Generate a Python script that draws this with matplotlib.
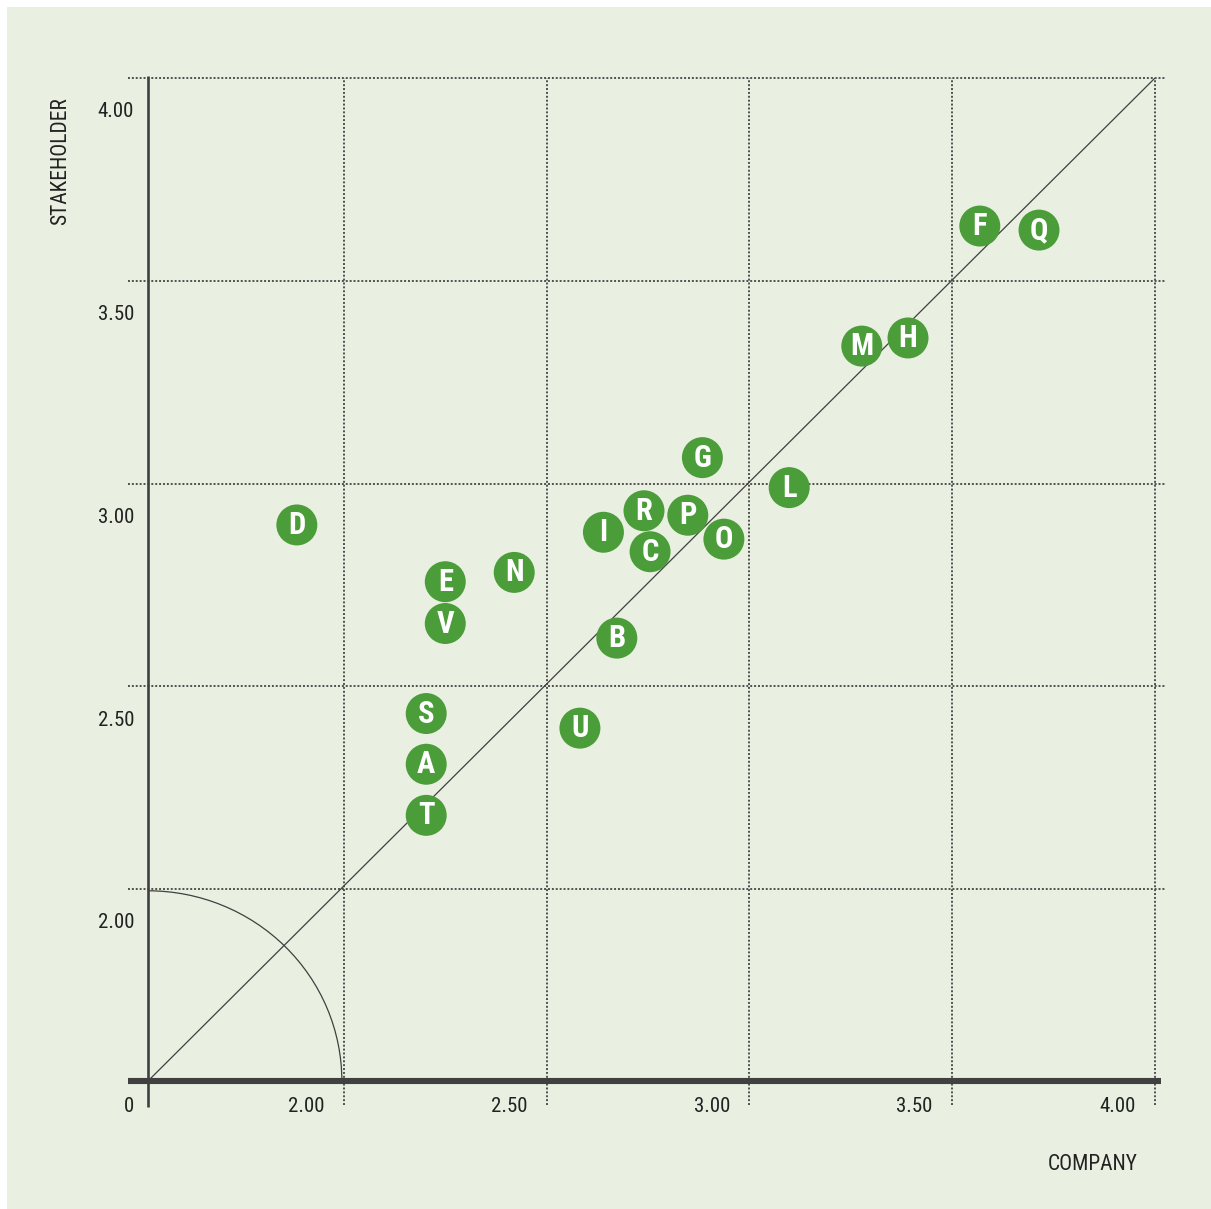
import numpy as np
import matplotlib
matplotlib.use('Agg')
import matplotlib.pyplot as plt
from matplotlib import font_manager
from matplotlib.patches import Arc, Rectangle
from matplotlib.transforms import offset_copy

# data
labels = ['D', 'E', 'V', 'N', 'S', 'A', 'T', 'U', 'B', 'I', 'R', 'C', 'P', 'O',
          'G', 'L', 'M', 'H', 'F', 'Q']
company = [1.884, 2.250, 2.250, 2.420, 2.203, 2.203, 2.203, 2.582, 2.673, 2.640,
           2.740, 2.755, 2.848, 2.937, 2.884, 3.098, 3.277, 3.391, 3.568, 3.714]
stakeholder = [2.898, 2.758, 2.655, 2.781, 2.433, 2.308, 2.182, 2.397, 2.619, 2.880,
               2.933, 2.832, 2.922, 2.863, 3.064, 2.990, 3.339, 3.359, 3.635, 3.625]
ticks = [2.0, 2.5, 3.0, 3.5, 4.0]
tick_labels = ['2.00', '2.50', '3.00', '3.50', '4.00']


def pick_font(bold):
    # look for a condensed / narrow face, fall back to plain DejaVu Sans
    cands = []
    for f in font_manager.fontManager.ttflist:
        name = f.name.lower()
        stretch = str(f.stretch).lower()
        if not ('condensed' in name or 'narrow' in name or 'condensed' in stretch):
            continue
        w = f.weight
        isbold = (w == 'bold' or (isinstance(w, int) and w >= 600))
        if isbold != bold or f.style != 'normal':
            continue
        rank = 0 if 'roboto' in name else 1 if 'liberation' in name else 2
        cands.append((rank, f.fname))
    if cands:
        cands.sort()
        return font_manager.FontProperties(fname=cands[0][1])
    return font_manager.FontProperties(family='DejaVu Sans',
                                       weight='bold' if bold else 'normal')


fp_reg = pick_font(False)
fp_bold = pick_font(True)

bg = '#e9efe1'
green = '#4a9d38'
dark = '#404040'
grid_c = '#505050'
txt_c = '#222222'

x_min, y_min = 1.517, 1.527

fig = plt.figure(figsize=(12.11, 12.09), dpi=100)
fig.patch.set_facecolor('white')
fig.patches.append(Rectangle((7/1211, 0), 1 - 7/1211, 1 - 7/1209, transform=fig.transFigure,
                             facecolor=bg, edgecolor='none', zorder=-10))

ax = fig.add_axes([148/1211, 128/1209, 1007/1211, 1003/1209])
ax.set_facecolor('none')
ax.set_xlim(x_min, 4.0)
ax.set_ylim(y_min, 4.0)
for s in ax.spines.values():
    s.set_visible(False)
ax.set_xticks([])
ax.set_yticks([])

# dotted grid, running past the frame
ax.vlines(ticks, -0.024, 1.0, transform=ax.get_xaxis_transform(), colors=grid_c,
          linestyles=(0, (1, 1)), linewidth=1.4, clip_on=False, zorder=1)
ax.hlines(ticks, -0.02, 1.01, transform=ax.get_yaxis_transform(), colors=grid_c,
          linestyles=(0, (1, 1)), linewidth=1.4, clip_on=False, zorder=1)

# axes lines
ax.plot([-0.02, 1.006], [0, 0], transform=ax.transAxes, color=dark, lw=4.4,
        solid_capstyle='butt', clip_on=False, zorder=3)
ax.plot([0, 0], [-0.026, 1.002], transform=ax.transAxes, color=dark, lw=1.9,
        solid_capstyle='butt', clip_on=False, zorder=3)

# diagonal and quarter circle
ax.plot([x_min, 4.0], [y_min, 4.0], color=dark, lw=0.9, zorder=2)
ax.add_patch(Arc((x_min, y_min), 2 * 0.478, 2 * 0.469, theta1=0, theta2=90,
                 color=dark, lw=0.9, zorder=2))

# tick labels
xoff = offset_copy(ax.transData, fig=fig, x=-14, y=-11.5, units='points')
for t, lab in zip(ticks, tick_labels):
    ax.text(t, y_min, lab, transform=xoff, ha='right', va='top', fontproperties=fp_reg,
            fontsize=15, color=txt_c)
zoff = offset_copy(ax.transData, fig=fig, x=-10, y=-11.5, units='points')
ax.text(x_min, y_min, '0', transform=zoff, ha='right', va='top', fontproperties=fp_reg,
        fontsize=15, color=txt_c)
yoff = offset_copy(ax.transData, fig=fig, x=-10, y=-17.5, units='points')
for t, lab in zip(ticks, tick_labels):
    ax.text(x_min, t, lab, transform=yoff, ha='right', va='top', fontproperties=fp_reg,
            fontsize=15, color=txt_c)

fig.text(1093/1211, 1 - 1164/1209, 'COMPANY', ha='center', va='center',
         fontproperties=fp_reg, fontsize=15.5, color=txt_c)
fig.text(61/1211, 1 - 161/1209, 'STAKEHOLDER', ha='center', va='center',
         fontproperties=fp_reg, fontsize=15.5, rotation=90, color=txt_c)

# points
ax.scatter(company, stakeholder, s=870, color=green, edgecolors='none', zorder=5)
for lab, x, y in zip(labels, company, stakeholder):
    ax.text(x, y, lab, ha='center', va='center', color='white', fontproperties=fp_bold,
            fontsize=22, zorder=6)

fig.savefig('out.png', dpi=100, facecolor=fig.get_facecolor())
